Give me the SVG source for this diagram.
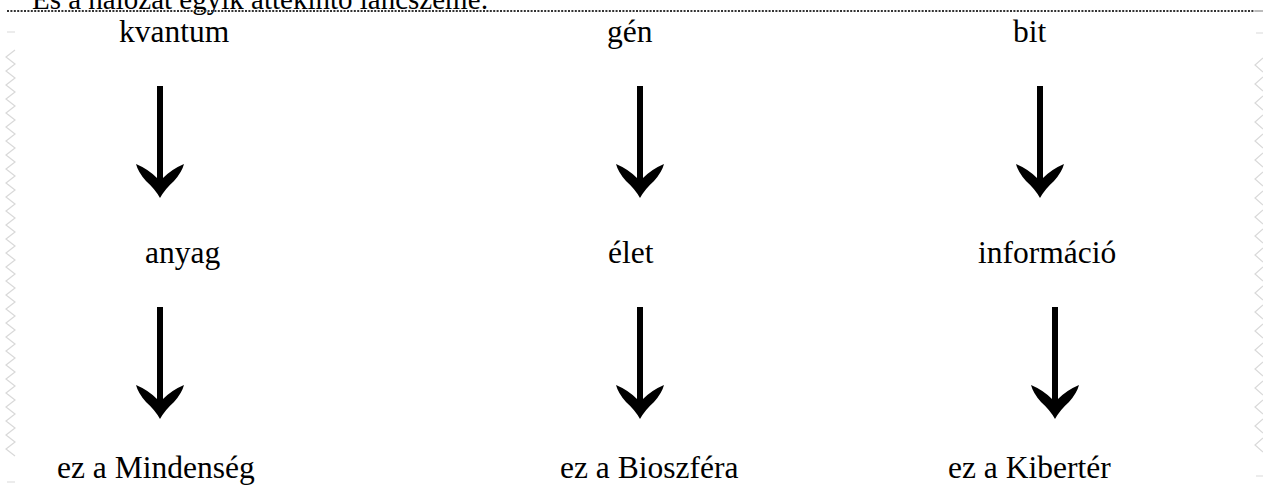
<svg xmlns="http://www.w3.org/2000/svg" width="1263" height="493" viewBox="0 0 1263 493">
<defs>
<style>
.t{font-family:"Liberation Serif","Times New Roman",serif;font-size:31.5px;fill:#000}
.edge{fill:none;stroke:#d9d9d9;stroke-width:1.2}
</style>
<path id="arr" d="M-24,164 Q-12,169 -3,178 V86 H3 V178 Q12,169 24,164 Q22,172 14,181 Q5,189 0,198 Q-5,189 -14,181 Q-22,172 -24,164 Z" fill="#000"/>
</defs>
<rect width="1263" height="493" fill="#fff"/>
<g id="header">
<text class="t" x="32" y="8.5" style="font-size:29px">És a hálózat egyik áttekintő láncszeme:</text>
<line x1="7" y1="11" x2="1255" y2="11" stroke="#333" stroke-width="2" stroke-dasharray="2 1.4"/>
<line x1="1255" y1="11" x2="1263" y2="11" stroke="#aaa" stroke-width="1.6"/>
</g>
<g id="edges-decor">
<polyline class="edge" points="15,50 6,57 15,64 6,71 15,78 6,85 15,92 6,99 15,106 6,113 15,120 6,127 15,134 6,141 15,148 6,155 15,162 6,169 15,176 6,183 15,190 6,197 15,204 6,211 15,218 6,225 15,232 6,239 15,246 6,253 15,260 6,267 15,274 6,281 15,288 6,295 15,302 6,309 15,316 6,323 15,330 6,337 15,344 6,351 15,358 6,365 15,372 6,379 15,386 6,393 15,400 6,407 15,414 6,421 15,428 6,435 15,442 6,449 15,456"/>
<path class="edge" d="M1263,58 L1255,65 L1263,72 M1263,77 L1255,84 L1263,91 M1263,96 L1255,103 L1263,110 M1263,115 L1255,122 L1263,129 M1263,134 L1255,141 L1263,148 M1263,153 L1255,160 L1263,167 M1263,172 L1255,179 L1263,186 M1263,191 L1255,198 L1263,205 M1263,210 L1255,217 L1263,224 M1263,229 L1255,236 L1263,243 M1263,248 L1255,255 L1263,262 M1263,267 L1255,274 L1263,281 M1263,286 L1255,293 L1263,300 M1263,305 L1255,312 L1263,319 M1263,324 L1255,331 L1263,338 M1263,343 L1255,350 L1263,357 M1263,362 L1255,369 L1263,376 M1263,381 L1255,388 L1263,395 M1263,400 L1255,407 L1263,414 M1263,419 L1255,426 L1263,433 M1263,438 L1255,445 L1263,452"/>
<path class="edge" d="M7,32 H15 M7,482 H15 M1256,33 H1263 M1256,476 H1263"/>
</g>
<g id="connectors">
<use href="#arr" x="160" y="0"/>
<use href="#arr" x="640" y="0"/>
<use href="#arr" x="1040" y="0"/>
<use href="#arr" x="160" y="221"/>
<use href="#arr" x="640" y="221"/>
<use href="#arr" x="1055" y="221"/>
</g>
<g id="n-kvantum"><text class="t" x="119" y="42">kvantum</text></g>
<g id="n-gen"><text class="t" x="607" y="42">gén</text></g>
<g id="n-bit"><text class="t" x="1013" y="42">bit</text></g>
<g id="n-anyag"><text class="t" x="145" y="263">anyag</text></g>
<g id="n-elet"><text class="t" x="608" y="263">élet</text></g>
<g id="n-informacio"><text class="t" x="978" y="263">információ</text></g>
<g id="n-mindenseg"><text class="t" x="57" y="478">ez a Mindenség</text></g>
<g id="n-bioszfera"><text class="t" x="560" y="478">ez a Bioszféra</text></g>
<g id="n-kiberter"><text class="t" x="948" y="478">ez a Kibertér</text></g>
</svg>
